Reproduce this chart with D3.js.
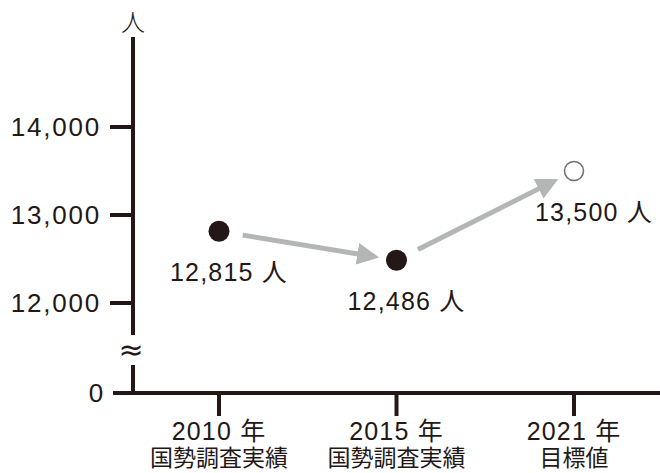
<!DOCTYPE html>
<html>
<head>
<meta charset="utf-8">
<script src="https://cdn.jsdelivr.net/npm/d3@7"></script>
<style>
  body { margin: 0; background: #fff; }
  svg { display: block; }
  text { font-family: "Liberation Sans", "Noto Sans CJK JP", sans-serif; fill: #231815; }
</style>
</head>
<body>
<script>
// chart values
var years = ["2010 年", "2015 年", "2021 年"];
var subLabels = ["国勢調査実績", "国勢調査実績", "目標値"];
var population = [12815, 12486, 13500];
var isTarget = [false, false, true];
var yTicks = [0, 12000, 13000, 14000];

var width = 660, height = 473;
var ink = "#231815";

var svg = d3.select("body").append("svg")
    .attr("width", width)
    .attr("height", height);

var axisX = 133, baseY = 393;

var x = d3.scalePoint()
    .domain(years)
    .range([219, 574]);

// broken axis: 0 sits below a gap, 12000-14000 on the upper part
var y = d3.scaleLinear()
    .domain([0, 12000, 14000])
    .range([baseY, 303, 127]);

var fmt = d3.format(",");

// y axis line, split by the break mark
svg.append("line")
    .attr("x1", axisX).attr("x2", axisX)
    .attr("y1", 37).attr("y2", 335)
    .attr("stroke", ink).attr("stroke-width", 4);
svg.append("line")
    .attr("x1", axisX).attr("x2", axisX)
    .attr("y1", 365).attr("y2", baseY + 2)
    .attr("stroke", ink).attr("stroke-width", 4);
svg.append("text")
    .attr("x", axisX - 2).attr("y", 351)
    .attr("text-anchor", "middle")
    .attr("dominant-baseline", "middle")
    .attr("font-size", 30)
    .style("font-family", "DejaVu Sans")
    .text("≈");

svg.append("text")
    .attr("x", axisX).attr("y", 31)
    .attr("text-anchor", "middle")
    .attr("font-size", 24)
    .style("font-family", "Noto Sans CJK JP")
    .attr("font-weight", 300)
    .text("人");

// y ticks
var yt = svg.selectAll(".ytick").data(yTicks).enter().append("g")
    .attr("class", "ytick")
    .attr("transform", function(d) { return "translate(0," + y(d) + ")"; });
yt.append("line")
    .attr("x1", function(d) { return d === 0 ? 113 : 110; })
    .attr("x2", axisX)
    .attr("stroke", ink).attr("stroke-width", 4);
yt.append("text")
    .attr("x", function(d) { return d === 0 ? 105 : 101; })
    .attr("dy", "0.36em")
    .attr("text-anchor", "end")
    .attr("font-size", 26)
    .attr("letter-spacing", "1.8")
    .text(function(d) { return fmt(d); });

// x axis
svg.append("line")
    .attr("x1", axisX - 2).attr("x2", width)
    .attr("y1", baseY).attr("y2", baseY)
    .attr("stroke", ink).attr("stroke-width", 4);

var xt = svg.selectAll(".xtick").data(years).enter().append("g")
    .attr("class", "xtick")
    .attr("transform", function(d) { return "translate(" + x(d) + ",0)"; });
xt.append("line")
    .attr("y1", baseY).attr("y2", 416)
    .attr("stroke", ink).attr("stroke-width", 4);
xt.append("text")
    .attr("y", 440)
    .attr("text-anchor", "middle")
    .attr("font-size", 25)
    .attr("letter-spacing", "1.2")
    .text(function(d) { return d; });
xt.append("text")
    .attr("y", 466)
    .attr("text-anchor", "middle")
    .attr("font-size", 23)
    .style("font-family", "Noto Sans CJK JP")
    .text(function(d, i) { return subLabels[i]; });

// points
var pts = years.map(function(d, i) {
  return { px: x(d), py: y(population[i]), v: population[i], target: isTarget[i] };
});

// grey arrows between points
var arrowGrey = "#b4b5b5";
svg.append("defs").append("marker")
    .attr("id", "head")
    .attr("viewBox", "0 0 10 10")
    .attr("refX", 8).attr("refY", 5)
    .attr("markerWidth", 4.4).attr("markerHeight", 4.4)
    .attr("markerUnits", "strokeWidth")
    .attr("orient", "auto")
  .append("path")
    .attr("d", "M0,0 L10,5 L0,10 Z")
    .attr("fill", arrowGrey);

for (var i = 0; i < pts.length - 1; i++) {
  var a = pts[i], b = pts[i + 1];
  var dx = b.px - a.px, dy = b.py - a.py;
  var len = Math.sqrt(dx * dx + dy * dy);
  var ux = dx / len, uy = dy / len;
  svg.append("line")
    .attr("x1", a.px + ux * 24).attr("y1", a.py + uy * 24)
    .attr("x2", b.px - ux * 22).attr("y2", b.py - uy * 22)
    .attr("stroke", arrowGrey)
    .attr("stroke-width", 5)
    .attr("marker-end", "url(#head)");
}

svg.selectAll(".pt").data(pts).enter().append("circle")
    .attr("class", "pt")
    .attr("cx", function(d) { return d.px; })
    .attr("cy", function(d) { return d.py; })
    .attr("r", function(d) { return d.target ? 9.5 : 10.5; })
    .attr("fill", function(d) { return d.target ? "#fff" : ink; })
    .attr("stroke", function(d) { return d.target ? "#6e6e6e" : ink; })
    .attr("stroke-width", function(d) { return d.target ? 1.5 : 0; });

// value labels sit below-right of each point
var labelShift = [10, 10, 20];
svg.selectAll(".vlab").data(pts).enter().append("text")
    .attr("class", "vlab")
    .attr("x", function(d, i) { return d.px + labelShift[i]; })
    .attr("y", function(d) { return d.py + 50; })
    .attr("text-anchor", "middle")
    .attr("font-size", 25)
    .attr("letter-spacing", "1.2")
    .text(function(d) { return fmt(d.v) + " 人"; });
</script>
</body>
</html>
